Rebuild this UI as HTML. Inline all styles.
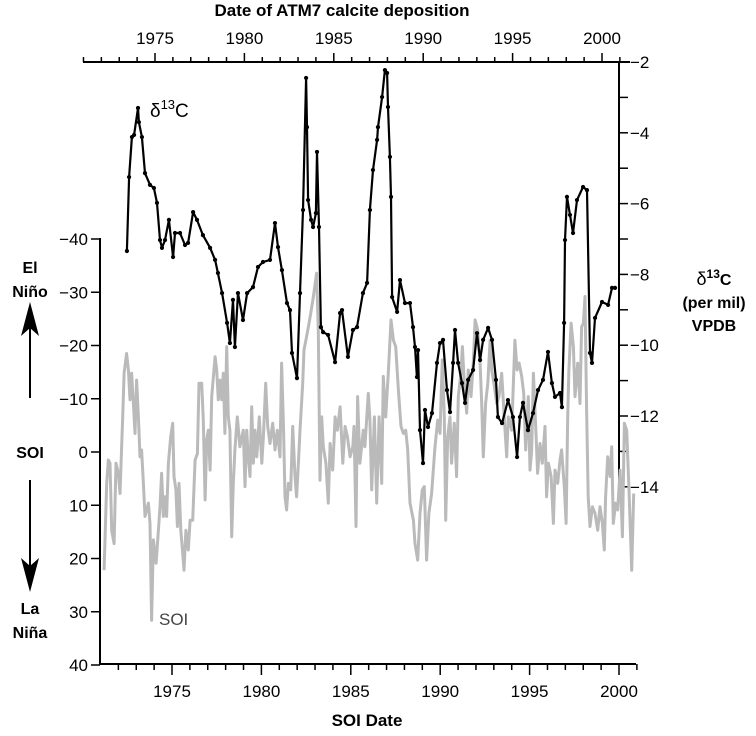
<!DOCTYPE html>
<html><head><meta charset="utf-8"><style>
html,body{margin:0;padding:0;background:#fff;}
svg{display:block;font-family:"Liberation Sans",Arial,sans-serif;}
</style></head><body>
<svg id="chart" width="756" height="736" viewBox="0 0 756 736" xmlns="http://www.w3.org/2000/svg">
<text x="342" y="16" font-size="17" font-weight="bold" text-anchor="middle">Date of ATM7 calcite deposition</text>
<text x="367" y="726" font-size="17" font-weight="bold" text-anchor="middle">SOI Date</text>
<text x="150" y="117" font-size="19">δ<tspan font-size="13" dy="-8">13</tspan><tspan dy="8">C</tspan></text>
<text x="159" y="625" font-size="17" fill="#444">SOI</text>
<g font-size="16" font-weight="bold" text-anchor="middle">
<text x="30" y="273">El</text><text x="30" y="297">Niño</text>
<text x="30" y="458">SOI</text>
<text x="30" y="614">La</text><text x="30" y="638">Niña</text>
<line x1="30" y1="398" x2="30" y2="320" stroke="#000" stroke-width="2"/>
<polygon points="30,302 21,336 30,328 39,336" fill="#000"/>
<line x1="30" y1="480" x2="30" y2="572" stroke="#000" stroke-width="2"/>
<polygon points="30,592 21,558 30,566 39,558" fill="#000"/>
</g>
<g font-size="16" font-weight="bold" text-anchor="middle">
<text x="714" y="285" font-weight="normal" font-size="18">δ<tspan font-size="12" dy="-7" font-weight="bold">13</tspan><tspan dy="7" font-weight="bold" font-size="16">C</tspan></text>
<text x="714" y="308">(per mil)</text>
<text x="714" y="331">VPDB</text>
</g>
<g id="axes"></g>
<g id="series"></g>
</svg>
<script>
// SOI series (bottom axis years, left axis values)
const soiYears = [1971.20,1971.35,1971.44,1971.53,1971.63,1971.76,1971.87,1972.00,1972.09,1972.24,1972.32,1972.46,1972.56,1972.65,1972.74,1972.84,1972.93,1973.02,1973.12,1973.21,1973.30,1973.40,1973.49,1973.68,1973.77,1973.86,1973.96,1974.11,1974.24,1974.33,1974.42,1974.52,1974.61,1974.70,1974.80,1974.93,1975.04,1975.11,1975.22,1975.30,1975.39,1975.49,1975.60,1975.67,1975.78,1975.91,1976.01,1976.16,1976.29,1976.42,1976.51,1976.66,1976.75,1976.85,1976.94,1977.03,1977.13,1977.22,1977.41,1977.50,1977.59,1977.68,1977.78,1977.87,1977.96,1978.06,1978.15,1978.24,1978.34,1978.43,1978.52,1978.65,1978.80,1978.99,1979.08,1979.18,1979.27,1979.36,1979.46,1979.55,1979.64,1979.74,1979.88,1980.02,1980.11,1980.24,1980.35,1980.48,1980.63,1980.76,1980.89,1981.04,1981.13,1981.23,1981.32,1981.41,1981.51,1981.64,1981.75,1981.88,1981.97,1982.07,1982.16,1982.31,1982.38,1982.49,1982.63,1982.76,1982.91,1983.09,1983.18,1983.28,1983.37,1983.46,1983.61,1983.74,1983.84,1983.99,1984.12,1984.25,1984.40,1984.55,1984.68,1984.81,1984.96,1985.11,1985.18,1985.29,1985.38,1985.51,1985.70,1985.79,1985.98,1986.07,1986.17,1986.32,1986.45,1986.58,1986.73,1986.82,1986.95,1987.10,1987.25,1987.38,1987.51,1987.66,1987.81,1987.94,1988.07,1988.18,1988.31,1988.50,1988.59,1988.74,1988.87,1989.00,1989.11,1989.24,1989.37,1989.52,1989.71,1989.86,1989.99,1990.12,1990.23,1990.31,1990.42,1990.55,1990.64,1990.79,1990.92,1991.01,1991.16,1991.24,1991.35,1991.48,1991.57,1991.72,1991.85,1991.95,1992.10,1992.23,1992.32,1992.41,1992.54,1992.66,1992.79,1992.88,1993.03,1993.16,1993.29,1993.44,1993.59,1993.72,1993.81,1994.00,1994.18,1994.30,1994.41,1994.56,1994.67,1994.78,1994.93,1995.02,1995.12,1995.21,1995.34,1995.45,1995.58,1995.71,1995.86,1995.95,1996.05,1996.20,1996.33,1996.42,1996.57,1996.70,1996.79,1996.94,1997.04,1997.13,1997.20,1997.32,1997.45,1997.54,1997.69,1997.82,1997.91,1998.01,1998.10,1998.19,1998.28,1998.38,1998.51,1998.66,1998.81,1998.94,1999.07,1999.18,1999.25,1999.37,1999.50,1999.59,1999.68,1999.81,1999.93,2000.06,2000.19,2000.30,2000.43,2000.56,2000.71,2000.82];
const soiValues = [22.2,5.9,1.5,2.1,14.7,17.2,2.1,4.0,7.8,-6.6,-14.8,-18.5,-15.4,-9.8,-14.8,-9.1,-3.5,-13.5,-6.6,0.9,-0.4,5.9,12.1,9.6,13.4,31.6,16.5,20.9,14.7,10.3,4.0,12.1,8.4,12.1,2.1,-2.9,-5.4,4.6,7.1,14.0,5.9,14.7,19.0,22.2,14.7,18.4,12.8,12.8,1.5,0.3,-12.9,-12.9,-6.0,9.0,-2.3,-4.1,3.4,-10.4,-17.9,-15.4,-9.8,-13.5,-9.8,-14.8,-3.5,-19.8,-6.6,-4.1,15.9,5.9,-0.4,-6.6,-1.0,-4.1,6.5,-4.1,0.9,4.6,-8.5,2.1,-4.1,0.9,-6.6,2.1,-2.9,-12.9,-4.8,-1.6,-5.4,-0.4,-4.1,0.9,-16.7,-5.4,8.4,10.9,5.9,7.1,-4.8,4.6,8.4,2.1,-4.1,-12.9,-19.2,-21.0,-23.5,-26.0,-29.2,-33.6,-22.9,5.3,-6.6,-1.0,2.1,9.6,-1.6,3.4,-6.6,-4.1,-8.5,2.1,-4.8,-2.9,0.9,-1.0,-4.8,14.0,-10.4,2.1,-4.1,-1.0,-11.0,-6.0,7.1,-6.6,9.6,-6.6,5.9,-14.2,-6.6,-14.8,-24.8,-21.0,-19.8,-11.6,-4.8,-3.5,-4.1,-0.4,9.6,12.8,17.2,20.3,11.5,7.1,6.5,20.3,11.5,7.8,-1.0,-6.0,-3.5,-17.3,-6.6,12.8,-2.9,-6.6,2.1,-5.4,4.6,-10.4,-14.8,-19.8,-12.9,-7.3,-15.4,-10.4,-16.7,-24.8,-22.9,-16.7,-9.1,0.9,-9.1,-12.9,-21.0,-15.4,-12.3,-9.1,-10.4,-14.8,-6.0,0.9,-6.6,-4.1,-21.0,-15.4,-16.7,-14.2,-11.0,-0.4,-10.4,3.4,-0.4,-14.8,-4.8,4.0,-1.6,2.1,-4.8,8.4,2.1,4.6,13.4,3.4,5.9,1.5,-0.4,6.5,13.4,-6.6,-15.4,-24.2,-19.8,-10.4,-16.7,-9.1,-23.5,-24.2,-29.2,-7.9,8.4,14.0,10.3,11.5,14.7,10.3,13.4,18.4,8.4,0.9,4.6,-1.0,13.4,9.6,10.9,3.4,15.9,-5.4,-4.1,7.1,22.2,7.8];
// d13C series (top axis years, right axis values, per mil)
const d13cYears = [1973.43,1973.55,1973.71,1973.83,1974.05,1974.10,1974.27,1974.44,1974.72,1974.94,1975.11,1975.28,1975.39,1975.56,1975.78,1976.01,1976.12,1976.40,1976.68,1976.85,1977.13,1977.35,1977.68,1978.08,1978.36,1978.52,1978.75,1979.03,1979.19,1979.36,1979.47,1979.64,1979.92,1980.15,1980.48,1980.76,1981.04,1981.43,1981.71,1981.88,1982.10,1982.38,1982.55,1982.66,1982.94,1983.11,1983.28,1983.45,1983.50,1983.56,1983.73,1983.84,1984.00,1984.06,1984.17,1984.28,1984.40,1984.68,1985.07,1985.35,1985.46,1985.79,1986.07,1986.30,1986.63,1986.86,1987.02,1987.19,1987.42,1987.47,1987.70,1987.86,1987.98,1988.03,1988.14,1988.20,1988.26,1988.54,1988.70,1988.98,1989.26,1989.43,1989.54,1989.65,1989.71,1989.82,1989.99,1990.10,1990.27,1990.49,1990.77,1990.94,1991.11,1991.33,1991.50,1991.67,1991.78,1991.95,1992.17,1992.34,1992.51,1992.79,1993.01,1993.18,1993.35,1993.63,1993.85,1994.07,1994.18,1994.41,1994.74,1995.02,1995.25,1995.41,1995.58,1995.86,1996.14,1996.42,1996.70,1996.98,1997.20,1997.37,1997.65,1997.76,1997.88,1997.93,1998.04,1998.21,1998.38,1998.60,1998.94,1999.16,1999.33,1999.44,1999.61,2000.00,2000.34,2000.56,2000.73];
const d13cValues = [-7.34,-5.25,-4.12,-4.06,-3.30,-3.70,-4.12,-5.14,-5.47,-5.56,-5.98,-7.03,-7.25,-7.03,-6.46,-7.51,-6.83,-6.83,-7.17,-7.11,-6.24,-6.46,-6.89,-7.25,-7.59,-7.96,-8.53,-9.37,-9.94,-8.72,-10.05,-8.53,-9.29,-8.53,-8.36,-7.79,-7.65,-7.59,-6.55,-7.23,-7.88,-8.81,-9.01,-10.22,-10.93,-8.53,-6.18,-2.45,-3.84,-5.90,-6.46,-6.66,-6.27,-4.54,-6.66,-9.49,-9.63,-9.71,-10.48,-9.09,-9.01,-10.33,-9.57,-9.49,-8.53,-8.24,-6.18,-5.05,-4.20,-3.84,-2.99,-2.23,-2.31,-3.27,-4.68,-5.81,-8.64,-9.06,-8.16,-8.81,-8.81,-9.49,-10.05,-10.90,-10.14,-12.40,-13.33,-11.83,-12.31,-11.92,-10.50,-9.94,-9.85,-11.27,-11.89,-10.50,-9.57,-10.50,-11.07,-11.63,-10.98,-10.70,-9.66,-10.42,-9.85,-9.51,-9.85,-10.98,-12.03,-12.20,-11.55,-12.03,-13.16,-12.03,-11.63,-12.40,-11.92,-11.27,-10.98,-10.19,-11.07,-11.46,-11.35,-11.75,-9.37,-7.03,-5.81,-6.32,-6.83,-5.90,-5.53,-5.62,-10.22,-10.50,-9.23,-8.78,-8.86,-8.38,-8.38];
const bottomTickYears = [1975,1980,1985,1990,1995,2000];
const topTickYears = [1975,1980,1985,1990,1995,2000];
const soiTicks = [-40,-30,-20,-10,0,10,20,30,40];
const d13cTicks = [-2,-4,-6,-8,-10,-12,-14];

const NS = 'http://www.w3.org/2000/svg';
const xBottom = y => 172 + (y - 1975) * 17.88;
const xTop = y => 155 + (y - 1975) * 17.88;
const ySoi = v => 452 + v * 5.325;
const yD13c = v => 62 + (-2 - v) * 35.4;
const axes = document.getElementById('axes');
const series = document.getElementById('series');
function mk(tag, attrs, parent) {
  const e = document.createElementNS(NS, tag);
  for (const k in attrs) e.setAttribute(k, attrs[k]);
  parent.appendChild(e);
  return e;
}
function label(txt, x, y, anchor, parent) {
  const t = mk('text', {x: x, y: y, 'font-size': 17, 'text-anchor': anchor}, parent);
  t.textContent = txt;
  return t;
}
const fmt = v => (v < 0 ? '\u2212' + Math.abs(v) : String(v));

// bottom axis
const bAx = mk('g', {}, axes);


mk('line', {x1: 101, y1: 664, x2: 636, y2: 664, stroke: '#000', 'stroke-width': 2}, bAx);
for (let yr = 1972; yr <= 2001; yr++) {
  const major = yr % 5 === 0;
  mk('line', {x1: xBottom(yr), y1: 664, x2: xBottom(yr), y2: 664 + (major ? 11 : 6), stroke: '#000', 'stroke-width': 1.5}, bAx);
}
bottomTickYears.forEach(yr => label(String(yr), xBottom(yr), 697, 'middle', bAx));

// top axis
const tAx = mk('g', {}, axes);


mk('line', {x1: 83, y1: 62, x2: 630, y2: 62, stroke: '#000', 'stroke-width': 2}, tAx);
for (let yr = 1971; yr <= 2001; yr++) {
  const major = yr % 5 === 0;
  mk('line', {x1: xTop(yr), y1: 62, x2: xTop(yr), y2: 62 - (major ? 9 : 5), stroke: '#000', 'stroke-width': 1.5}, tAx);
}
topTickYears.forEach(yr => label(String(yr), xTop(yr), 44, 'middle', tAx));

// left axis
const lAx = mk('g', {}, axes);


mk('line', {x1: 100, y1: 238, x2: 100, y2: 665, stroke: '#000', 'stroke-width': 2}, lAx);
soiTicks.forEach(v => {
  mk('line', {x1: 91, y1: ySoi(v), x2: 100, y2: ySoi(v), stroke: '#000', 'stroke-width': 1.5}, lAx);
  label(fmt(v), 88, ySoi(v) + 6, 'end', lAx);
});

// right axis
const rAx = mk('g', {}, axes);


mk('line', {x1: 619, y1: 62, x2: 619, y2: 490, stroke: '#000', 'stroke-width': 2}, rAx);
for (let v = -2; v >= -14; v--) {
  mk('line', {x1: 619, y1: yD13c(v), x2: 628, y2: yD13c(v), stroke: '#000', 'stroke-width': 1.5}, rAx);
}
d13cTicks.forEach(v => label(fmt(v), 630, yD13c(v) + 6, 'start', rAx));

// SOI line
const soiPts = soiYears.map((y, i) => xBottom(y).toFixed(1) + ',' + ySoi(soiValues[i]).toFixed(1)).join(' ');
const soiLine = mk('polyline', {points: soiPts, fill: 'none', stroke: '#bababa', 'stroke-width': 3, 'stroke-linejoin': 'round'}, series);



// d13C line
const dPts = d13cYears.map((y, i) => xTop(y).toFixed(1) + ',' + yD13c(d13cValues[i]).toFixed(1)).join(' ');
const dLine = mk('polyline', {points: dPts, fill: 'none', stroke: '#000', 'stroke-width': 2.2, 'stroke-linejoin': 'round'}, series);


const dots = mk('g', {fill: '#000'}, series);


d13cYears.forEach((y, i) => {
  const c = mk('circle', {cx: xTop(y), cy: yD13c(d13cValues[i]), r: 2.1}, dots);
  
  
});
</script>
</body></html>
